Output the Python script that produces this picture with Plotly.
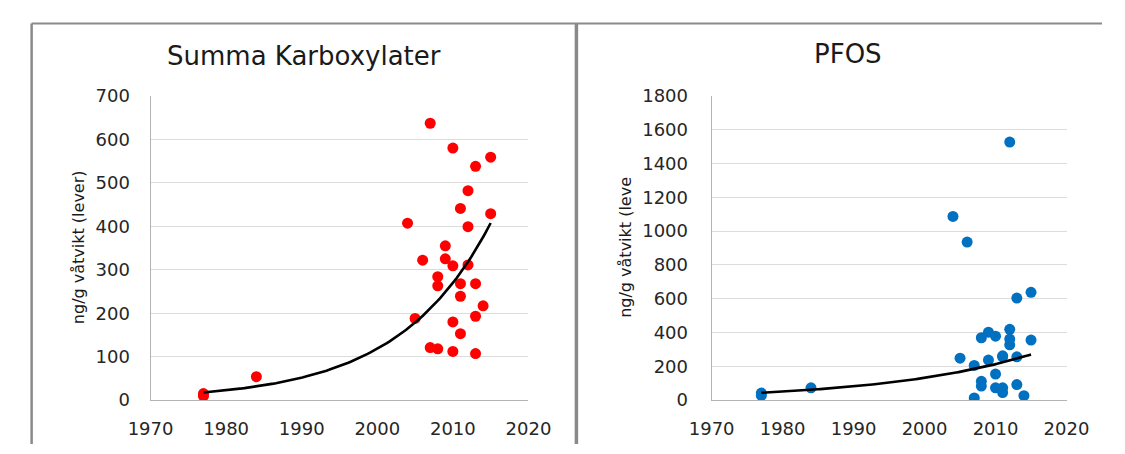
import numpy as np
import plotly.graph_objects as go

# ---------------- data ----------------
kar_years = [1977, 1977, 1984, 2004, 2005, 2006, 2007, 2007, 2008, 2008, 2008, 2009, 2009,
             2010, 2010, 2010, 2010, 2011, 2011, 2011, 2011, 2012, 2012, 2012, 2013, 2013,
             2013, 2013, 2014, 2015, 2015]
kar_values = [15, 9, 54, 407, 188, 322, 637, 121, 284, 263, 118, 355, 325,
              580, 309, 180, 112, 441, 268, 239, 153, 482, 399, 311, 538, 268,
              193, 107, 217, 559, 429]

pfos_years = [1977, 1977, 1984, 2004, 2005, 2006, 2007, 2007, 2008, 2008, 2008, 2009, 2009,
              2010, 2010, 2010, 2011, 2011, 2011, 2011, 2012, 2012, 2012, 2012, 2013, 2013,
              2013, 2014, 2015, 2015]
pfos_values = [42, 28, 73, 1087, 248, 935, 205, 13, 369, 111, 83, 402, 237,
               378, 154, 73, 256, 262, 73, 45, 1527, 419, 361, 327, 604, 256,
               92, 26, 638, 355]

x_ticks = [1970, 1980, 1990, 2000, 2010, 2020]
kar_yticks = [0, 100, 200, 300, 400, 500, 600, 700]
pfos_yticks = [0, 200, 400, 600, 800, 1000, 1200, 1400, 1600, 1800]

titles = ["Summa Karboxylater", "PFOS"]
ytitles = ["ng/g våtvikt (lever)", "ng/g våtvikt (leve"]

# ---------------- helpers ----------------
W, H = 1125, 454
FONT = "DejaVu Sans"


def px(x):
    return x / W


def py(y):
    return 1 - y / H


def exp_trend(xs, ys):
    """Excel-style exponential trendline (least squares on ln y)."""
    xs = np.asarray(xs, float)
    ys = np.asarray(ys, float)
    b, ln_a = np.polyfit(xs, np.log(ys), 1)
    xx = np.linspace(xs.min(), xs.max(), 120)
    return xx, np.exp(ln_a + b * xx)


fig = go.Figure()

kx, ky = exp_trend(kar_years, kar_values)
qx, qy = exp_trend(pfos_years, pfos_values)

fig.add_trace(go.Scatter(x=kar_years, y=kar_values, mode="markers", xaxis="x", yaxis="y",
                         marker=dict(color="#ff0000", size=11, line=dict(width=0))))
fig.add_trace(go.Scatter(x=kx, y=ky, mode="lines", xaxis="x", yaxis="y",
                         line=dict(color="black", width=2.6)))
fig.add_trace(go.Scatter(x=pfos_years, y=pfos_values, mode="markers", xaxis="x2", yaxis="y2",
                         marker=dict(color="#0070c0", size=11, line=dict(width=0))))
fig.add_trace(go.Scatter(x=qx, y=qy, mode="lines", xaxis="x2", yaxis="y2",
                         line=dict(color="black", width=2.6)))

tickfont = dict(family=FONT, size=18, color="#262626")
axis_common_x = dict(range=[1970, 2020], tickvals=x_ticks, showgrid=False, zeroline=False,
                     showline=True, linecolor="#b4b4b4", linewidth=1, ticks="",
                     tickfont=tickfont, ticklabelstandoff=12, fixedrange=True)
axis_common_y = dict(showgrid=True, gridcolor="#dcdcdc", gridwidth=1, zeroline=False,
                     showline=True, linecolor="#b4b4b4", linewidth=1, ticks="",
                     tickfont=tickfont, fixedrange=True)

ydom = [py(408), py(89)]

fig.update_layout(
    width=W, height=H,
    margin=dict(l=0, r=0, t=0, b=0),
    paper_bgcolor="white", plot_bgcolor="white",
    showlegend=False,
    xaxis=dict(domain=[px(133), px(527)], anchor="y", **axis_common_x),
    yaxis=dict(domain=ydom, anchor="x", range=[0, 700], tickvals=kar_yticks,
               ticklabelstandoff=16, **axis_common_y),
    xaxis2=dict(domain=[px(718), px(1088)], anchor="y2", **axis_common_x),
    yaxis2=dict(domain=ydom, anchor="x2", range=[0, 1800], tickvals=pfos_yticks,
                ticklabelstandoff=19, **axis_common_y),
)

annotations = [
    dict(text=titles[0], x=px(293), y=py(47), xref="paper", yref="paper",
         xanchor="center", yanchor="middle", showarrow=False,
         font=dict(family=FONT, size=26, color="#1a1a1a")),
    dict(text=titles[1], x=px(860), y=py(45), xref="paper", yref="paper",
         xanchor="center", yanchor="middle", showarrow=False,
         font=dict(family=FONT, size=26, color="#1a1a1a")),
    dict(text=ytitles[0], x=px(58), y=py(248), xref="paper", yref="paper",
         xanchor="center", yanchor="middle", showarrow=False, textangle=-90,
         font=dict(family=FONT, size=16, color="#1a1a1a")),
    dict(text=ytitles[1], x=px(628), y=py(248), xref="paper", yref="paper",
         xanchor="center", yanchor="middle", showarrow=False, textangle=-90,
         font=dict(family=FONT, size=16, color="#1a1a1a")),
]
fig.update_layout(annotations=annotations)

frame = "#8a8a8a"
shapes = [
    dict(type="line", xref="paper", yref="paper", x0=px(9), x1=1, y0=py(13), y1=py(13),
         line=dict(color=frame, width=2)),
    dict(type="line", xref="paper", yref="paper", x0=px(9), x1=px(9), y0=py(13), y1=0,
         line=dict(color=frame, width=2.5)),
    dict(type="line", xref="paper", yref="paper", x0=px(577), x1=px(577), y0=py(13), y1=0,
         line=dict(color=frame, width=3.5)),
]
fig.update_layout(shapes=shapes)

fig.write_html("out.html")
